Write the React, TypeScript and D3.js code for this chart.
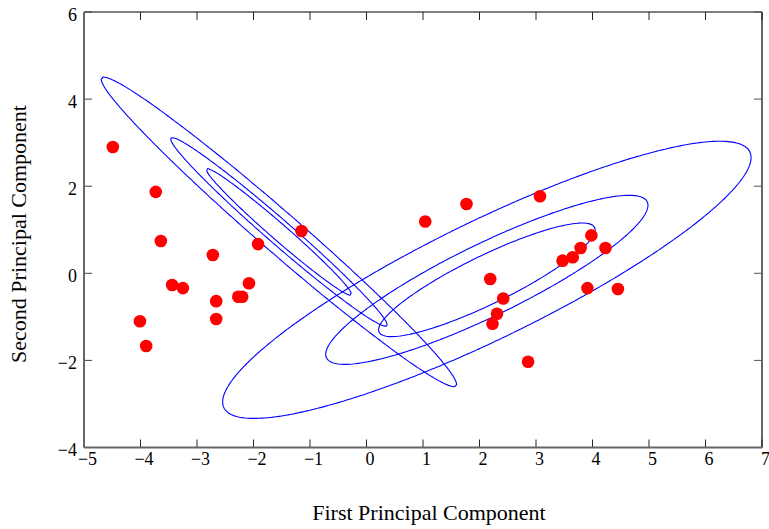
import React, { useRef, useEffect } from 'react';
import * as d3 from 'd3';

// scores of each observation on the first / second principal component
const pc1 = [-4.49, -3.73, -3.64, -3.44, -3.25, -4.01, -3.9, -2.72, -2.66, -2.66, -2.27, -2.2, -2.08, -1.92, -1.15,
  1.04, 1.77, 3.07, 2.19, 2.42, 2.31, 2.23, 2.86, 3.47, 3.65, 3.79, 3.98, 4.23, 3.91, 4.45];
const pc2 = [2.9, 1.87, 0.74, -0.27, -0.34, -1.1, -1.67, 0.42, -0.64, -1.05, -0.54, -0.54, -0.23, 0.67, 0.97,
  1.19, 1.59, 1.77, -0.13, -0.58, -0.93, -1.16, -2.03, 0.29, 0.37, 0.58, 0.87, 0.58, -0.34, -0.36];

// fitted gaussian mixture components
const componentMeans = [[-1.55, 0.95], [2.13, -0.15]];
const componentCovs = [
  [[1.1, -1.225], [-1.225, 1.405]],
  [[2.43, 1.458], [1.458, 1.125]],
];
// contour levels, as mahalanobis distance from the mean
const contourSigmas = [1.23, 1.83, 3.0];

const xTicks = [-5, -4, -3, -2, -1, 0, 1, 2, 3, 4, 5, 6, 7];
const yTicks = [-4, -2, 0, 2, 4, 6];

const width = 769;
const height = 529;
const plotLeft = 84;
const plotRight = 762;
const plotTop = 12;
const plotBottom = 447.5;
const font = '"Liberation Serif", "Times New Roman", serif';

const App = () => {
  const svgRef = useRef<SVGSVGElement>(null);

  useEffect(() => {
    const svg = d3.select(svgRef.current);
    svg.selectAll('*').remove();

    const x = d3.scaleLinear().domain([-5, 7]).range([plotLeft, plotRight]);
    const y = d3.scaleLinear().domain([-4, 6]).range([plotBottom, plotTop]);

    // density grid for each component, contoured with d3.contours
    const step = 0.05;
    const nx = Math.round(12 / step) + 1;
    const ny = Math.round(10 / step) + 1;
    const toData = (p: number[]) => [-5 + (p[0] - 0.5) * step, -4 + (p[1] - 0.5) * step];

    componentMeans.forEach((mu, k) => {
      const c = componentCovs[k];
      const det = c[0][0] * c[1][1] - c[0][1] * c[1][0];
      const ia = c[1][1] / det, ib = -c[0][1] / det, id = c[0][0] / det;
      const values = new Array(nx * ny);
      for (let j = 0; j < ny; j++) {
        for (let i = 0; i < nx; i++) {
          const dx = -5 + i * step - mu[0];
          const dy = -4 + j * step - mu[1];
          const r2 = ia * dx * dx + 2 * ib * dx * dy + id * dy * dy;
          values[j * nx + i] = Math.exp(-0.5 * r2);
        }
      }
      const thresholds = contourSigmas.map(s => Math.exp(-0.5 * s * s));
      const contours = d3.contours().size([nx, ny]).thresholds(thresholds)(values);

      const line = d3.line<number[]>()
        .x(p => x(toData(p)[0]))
        .y(p => y(toData(p)[1]))
        .curve(d3.curveLinearClosed);

      contours.forEach(ct => {
        ct.coordinates.forEach(poly => {
          poly.forEach(ring => {
            svg.append('path')
              .attr('d', line(ring.slice(0, -1)))
              .attr('fill', 'none')
              .attr('stroke', '#0000ff')
              .attr('stroke-width', 1.1);
          });
        });
      });
    });

    // observations
    svg.append('g')
      .selectAll('circle')
      .data(pc1.map((v, i) => [v, pc2[i]]))
      .enter()
      .append('circle')
      .attr('cx', d => x(d[0]))
      .attr('cy', d => y(d[1]))
      .attr('r', 6.3)
      .attr('fill', '#ff0000');

    // frame
    svg.append('line').attr('x1', plotLeft).attr('x2', plotRight).attr('y1', plotTop).attr('y2', plotTop)
      .attr('stroke', '#000').attr('stroke-width', 1);
    svg.append('line').attr('x1', plotRight).attr('x2', plotRight).attr('y1', plotTop).attr('y2', plotBottom)
      .attr('stroke', '#000').attr('stroke-width', 1.2);

    const tickLen = 8;
    const ticks = svg.append('g');
    xTicks.forEach(t => {
      ticks.append('line').attr('x1', x(t)).attr('x2', x(t)).attr('y1', plotBottom).attr('y2', plotBottom - tickLen)
        .attr('stroke', '#222').attr('stroke-width', 1);
      ticks.append('line').attr('x1', x(t)).attr('x2', x(t)).attr('y1', plotTop).attr('y2', plotTop + tickLen)
        .attr('stroke', '#222').attr('stroke-width', 1);
      ticks.append('text')
        .attr('x', x(t) + 3.5)
        .attr('y', plotBottom + 17.5)
        .attr('text-anchor', 'middle')
        .style('font-family', font)
        .style('font-size', '18px')
        .attr('fill', '#000')
        .text(d3.format('d')(t));
    });
    yTicks.forEach(t => {
      ticks.append('line').attr('x1', plotLeft).attr('x2', plotLeft + tickLen).attr('y1', y(t)).attr('y2', y(t))
        .attr('stroke', '#444').attr('stroke-width', 1);
      ticks.append('line').attr('x1', plotRight).attr('x2', plotRight - tickLen).attr('y1', y(t)).attr('y2', y(t))
        .attr('stroke', '#555').attr('stroke-width', 1);
      ticks.append('text')
        .attr('x', 77)
        .attr('y', y(t) + 8.5)
        .attr('text-anchor', 'end')
        .style('font-family', font)
        .style('font-size', '18px')
        .attr('fill', '#000')
        .text(d3.format('d')(t));
    });

    svg.append('line').attr('x1', plotLeft).attr('x2', plotLeft).attr('y1', plotTop).attr('y2', plotBottom)
      .attr('stroke', '#666').attr('stroke-width', 2);
    svg.append('line').attr('x1', plotLeft).attr('x2', plotRight).attr('y1', plotBottom).attr('y2', plotBottom)
      .attr('stroke', '#666').attr('stroke-width', 2);

    // axis titles
    svg.append('text')
      .attr('x', 429)
      .attr('y', 520)
      .attr('text-anchor', 'middle')
      .style('font-family', font)
      .style('font-size', '22px')
      .attr('fill', '#000')
      .text('First Principal Component');
    svg.append('text')
      .attr('transform', 'translate(26, 234) rotate(-90)')
      .attr('text-anchor', 'middle')
      .style('font-family', font)
      .style('font-size', '22px')
      .attr('fill', '#000')
      .text('Second Principal Component');
  }, []);

  return (
    <svg ref={svgRef} width={width} height={height}
      style={{ position: 'absolute', left: 0, top: 0, background: '#fff' }} />
  );
};

export default App;
